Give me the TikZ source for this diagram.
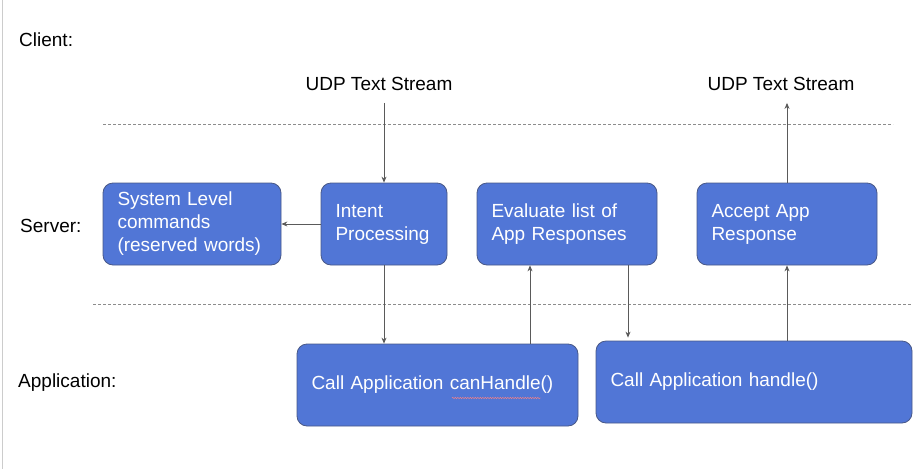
\documentclass[tikz,border=0pt]{standalone}
\usepackage{fontspec}
\setmainfont{Liberation Sans}
\usetikzlibrary{arrows.meta,decorations.pathmorphing}
\definecolor{boxfill}{RGB}{81,118,214}
\definecolor{boxline}{RGB}{72,88,135}
\definecolor{arrgray}{RGB}{90,90,90}
\definecolor{dashgray}{RGB}{140,140,140}
\begin{document}
\begin{tikzpicture}[x=1pt,y=-1pt,
  lbl/.style={font=\fontsize{19}{23}\selectfont, text=black, inner sep=0pt},
  box/.style={draw=boxline, line width=0.8pt, fill=boxfill, rounded corners=10pt,
    text=white, font=\fontsize{19}{23}\selectfont, align=left,
    inner xsep=14.5pt, inner ysep=0pt},
  arr/.style={draw=arrgray, line width=0.8pt, -{Stealth[length=6pt,width=5pt]}},
  sep/.style={draw=dashgray, line width=0.9pt, dash pattern=on 3pt off 2pt}]
\useasboundingbox (0,0) rectangle (924,469);
\draw[gray!40, line width=1pt] (2.5,0) -- (2.5,469);
% labels
\node[lbl, anchor=west] (client) at (19,40) {Client:};
\node[lbl, anchor=west] (server) at (20,226) {Server:};
\node[lbl, anchor=west] (app) at (18,383) {Application:};
\node[lbl] (udp1) at (379,84) {UDP Text Stream};
\node[lbl] (udp2) at (781,84) {UDP Text Stream};
% separators
\draw[sep] (103,124) -- (893,124);
\draw[sep] (93,304) -- (912,304);
% server boxes
\node[box, minimum width=178pt, minimum height=82pt, text width=149pt] (sys) at (192,224)
  {System Level\\commands\\(reserved words)};
\node[box, minimum width=126pt, minimum height=82pt, text width=97pt] (intent) at (384,224)
  {Intent\\Processing};
\node[box, minimum width=180pt, minimum height=82pt, text width=151pt] (eval) at (567,224)
  {Evaluate list of\\App Responses};
\node[box, minimum width=180pt, minimum height=82pt, text width=151pt] (accept) at (787,224)
  {Accept App\\Response};
% application boxes
\node[box, minimum width=281pt, minimum height=82pt, text width=252pt] (canh) at (437.5,385)
  {Call Application canHandle()};
\node[box, minimum width=316pt, minimum height=82pt, text width=287pt] (handle) at (754,382)
  {Call Application handle()};
% spell-check squiggle
\draw[red!50!white, line width=0.45pt, decorate, decoration={snake, amplitude=0.7pt, segment length=2.5pt}]
  (452,398) -- (541,398);
% connectors
\draw[arr] ([yshift=-12pt]udp1.south -| intent.north) -- (intent.north);
\draw[arr] (intent.west) -- (sys.east);
\draw[arr] (intent.south) -- (intent.south |- canh.north);
\draw[arr] ([xshift=-37pt]eval.south |- canh.north) -- ([xshift=-37pt]eval.south);
\draw[arr] ([xshift=61pt]eval.south) -- ([xshift=61pt,yshift=3pt]eval.south |- handle.north);
\draw[arr] (accept.south |- handle.north) -- (accept.south);
\draw[arr] (accept.north) -- ([yshift=-12pt]udp2.south -| accept.north);
\end{tikzpicture}
\end{document}
